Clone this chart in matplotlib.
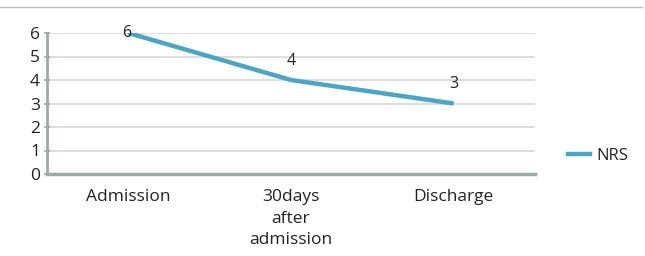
import matplotlib
matplotlib.use("Agg")
import matplotlib.pyplot as plt
from matplotlib.lines import Line2D

categories = ["Admission", "30days\nafter\nadmission", "Discharge"]
nrs = [6, 4, 3]
yticks = [0, 1, 2, 3, 4, 5, 6]

plt.rcParams['font.family'] = ['Open Sans', 'DejaVu Sans']

W, H = 645, 256
fig = plt.figure(figsize=(W/100, H/100), dpi=100)
ax = fig.add_axes([47/W, 1-174/H, (535-47)/W, (174-33)/H])

x = list(range(len(categories)))
color = "#4BA5C4"
ax.plot(x, nrs, color=color, lw=3.2, solid_capstyle='butt', zorder=3)
for xi, v in zip(x, nrs):
    if xi == 0:
        ax.text(xi - 0.01, v, str(v), ha='center', va='center', fontsize=11.5, color='#222222', zorder=4)
    else:
        ax.annotate(str(v), (xi, v), xytext=(0, 14), textcoords='offset points',
                    ha='center', va='center', fontsize=11.5, color='#222222')

ax.set_xlim(-0.5, len(categories) - 0.5)
ax.set_ylim(0, 6)
ax.set_yticks(yticks)
ax.set_xticks(x)
ax.set_xticklabels(categories, fontsize=12.5, color='#222222', linespacing=1.45)
ax.tick_params(axis='y', labelsize=12.5, colors='#a0a8a8', labelcolor='#222222',
               length=4, direction='inout', width=1.2, pad=3)
ax.tick_params(axis='x', length=0, pad=11)
ax.grid(axis='y', color='#d8d8d8', lw=1.2)
ax.set_axisbelow(True)
for s in ['top', 'right']:
    ax.spines[s].set_visible(False)
ax.spines['left'].set_color('#a0a8a8')
ax.spines['left'].set_linewidth(2)
ax.spines['bottom'].set_color('#a0a8a8')
ax.spines['bottom'].set_linewidth(2.5)

# top separator line
fig.add_artist(Line2D([0, 642/W], [1-6.5/H, 1-6.5/H], color='#c0c0c0', lw=1))

leg = fig.legend([Line2D([0], [0], color=color, lw=3.2)], ['NRS'],
                 loc='center left', bbox_to_anchor=(553/W, 1-156/H), frameon=False,
                 fontsize=12, handlelength=1.3, handletextpad=0.4)
for t in leg.get_texts():
    t.set_color('#222222')

fig.savefig("out.png", dpi=100, facecolor='white')
